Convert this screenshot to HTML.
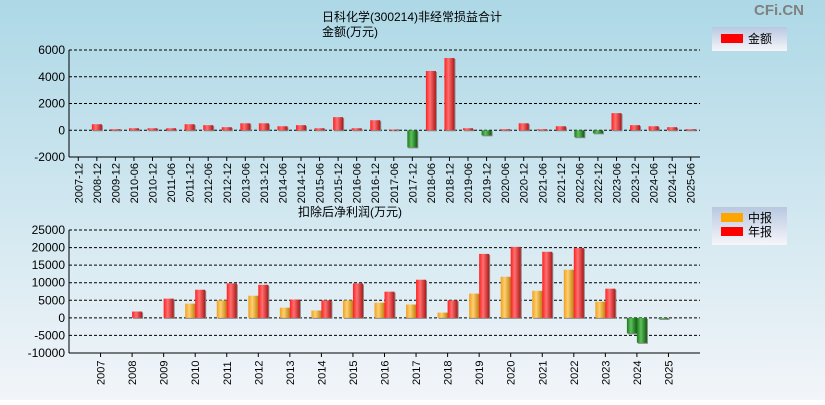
<!DOCTYPE html>
<html><head><meta charset="utf-8"><style>
body{margin:0;width:825px;height:400px;overflow:hidden;font-family:"Liberation Sans","Noto Sans CJK SC",sans-serif}
svg text{font-family:"Liberation Sans","Noto Sans CJK SC",sans-serif}
</style></head><body>
<svg id="c" width="825" height="400" xmlns="http://www.w3.org/2000/svg">
<defs>
<linearGradient id="bg" x1="0" y1="0" x2="0" y2="1"><stop offset="0" stop-color="#add8e6"/><stop offset="1" stop-color="#f2f5f9"/></linearGradient>
<linearGradient id="lg" x1="0" y1="0" x2="0" y2="1"><stop offset="0" stop-color="#b8c8e0"/><stop offset="1" stop-color="#f6f6fa"/></linearGradient>
<linearGradient id="gr" x1="0" x2="1"><stop offset="0" stop-color="#ff2020"/><stop offset="0.4" stop-color="#ff7070"/><stop offset="1" stop-color="#b01818"/></linearGradient>
<linearGradient id="go" x1="0" x2="1"><stop offset="0" stop-color="#f0a020"/><stop offset="0.4" stop-color="#ffd070"/><stop offset="1" stop-color="#c08010"/></linearGradient>
<linearGradient id="gg" x1="0" x2="1"><stop offset="0" stop-color="#1c7a1c"/><stop offset="0.4" stop-color="#5cc05c"/><stop offset="1" stop-color="#0f5a0f"/></linearGradient>
</defs>
<rect width="825" height="400" fill="url(#bg)"/>
<text x="779" y="15" font-size="15" font-weight="bold" fill="#808080" text-anchor="middle">CFi.CN</text>
<text x="412" y="21" font-size="12" text-anchor="middle">日科化学(300214)非经常损益合计</text>
<text x="350" y="36" font-size="12" text-anchor="middle">金额(万元)</text>
<text x="350" y="216" font-size="12" text-anchor="middle">扣除后净利润(万元)</text>
<g><rect x="712" y="27" width="75" height="24" fill="url(#lg)"/><rect x="721" y="34" width="22" height="9" fill="#f00"/><text x="748" y="43" font-size="12">金额</text></g>
<g><rect x="712" y="207" width="75" height="38" fill="url(#lg)"/><rect x="721" y="213" width="22" height="9" fill="#ffa500"/><text x="748" y="222" font-size="12">中报</text><rect x="721" y="227" width="22" height="9" fill="#f00"/><text x="748" y="236" font-size="12">年报</text></g>
<g id="top"></g><g id="bot"></g>
</svg>
<script>
const topCats=["2007-12","2008-12","2009-12","2010-06","2010-12","2011-06","2011-12","2012-06","2012-12","2013-06","2013-12","2014-06","2014-12","2015-06","2015-12","2016-06","2016-12","2017-06","2017-12","2018-06","2018-12","2019-06","2019-12","2020-06","2020-12","2021-06","2021-12","2022-06","2022-12","2023-06","2023-12","2024-06","2024-12","2025-06"];
const topVals=[0,450,80,150,150,150,450,380,230,520,520,300,380,150,980,150,750,60,-1280,4430,5400,150,-380,80,520,80,300,-520,-230,1280,380,300,230,80];
const topTicks=[6000,4000,2000,0,-2000];
const botCats=["2007","2008","2009","2010","2011","2012","2013","2014","2015","2016","2017","2018","2019","2020","2021","2022","2023","2024","2025"];
const botHalf=[null,null,null,4050,5000,6300,2900,2100,5000,4300,3800,1500,6900,11700,7700,13700,4600,-4400,-300];
const botYear=[null,1800,5470,8000,9800,9400,5200,5000,9800,7450,10850,5000,18200,20200,18800,19900,8300,-7100,null];
const botTicks=[25000,20000,15000,10000,5000,0,-5000,-10000];
const NS="http://www.w3.org/2000/svg";
function mk(p,t,a){const e=document.createElementNS(NS,t);for(const k in a)e.setAttribute(k,a[k]);p.appendChild(e);return e;}
function axis(g,x0,x1,y,vmax,vmin,ticks,n,cats,lblY,rotStep){
  const yTop=y[0],yBot=y[1];
  const Y=v=>yTop+(vmax-v)/(vmax-vmin)*(yBot-yTop);
  ticks.forEach(t=>{
    if(t!==vmin){const l=mk(g,'line',{x1:x0,x2:x1,y1:Y(t),y2:Y(t),stroke:'#000','stroke-dasharray':'3,2'});
    
    }
    const tx=mk(g,'text',{x:x0-4,y:Y(t)+4,'font-size':12,'text-anchor':'end'});tx.textContent=t;
    
    
  });
  mk(g,'line',{x1:x0,x2:x0,y1:yTop,y2:yBot,stroke:'#000'});
  mk(g,'line',{x1:x0,x2:x1,y1:yBot,y2:yBot,stroke:'#000'});
  return Y;
}
// top chart
(function(){
  const g=document.getElementById('top');const x0=69,x1=700;
  const Y=axis(g,x0,x1,[50,157],6000,-2000,topTicks);
  const step=(x1-x0)/topCats.length;
  const X=i=>x0+step*(i+0.5);
  topCats.forEach((c,i)=>{
    const x=X(i);mk(g,'line',{x1:x,x2:x,y1:157,y2:161,stroke:'#000'});
    const t=mk(g,'text',{x:x+4,y:163,'font-size':11,'text-anchor':'end',transform:`rotate(-90 ${x+4} 163)`});t.textContent=c;
    
    
    const v=topVals[i];if(!v)return;
    const y0=Y(0),y=Y(v);
    mk(g,'rect',{x:x-4,y:Math.min(y0,y)+1,width:10,height:Math.abs(y-y0),fill:'#888'});
    const r=mk(g,'rect',{x:x-5,y:Math.min(y0,y),width:10,height:Math.abs(y-y0),fill:v>0?'url(#gr)':'url(#gg)'});
    
    
  });
})();
// bottom chart
(function(){
  const g=document.getElementById('bot');const x0=69,x1=700;
  const Y=axis(g,x0,x1,[230,353],25000,-10000,botTicks);
  const step=(x1-x0)/(botCats.length+1);
  const X=i=>x0+step*(i+1);
  botCats.forEach((c,i)=>{
    const x=X(i);mk(g,'line',{x1:x,x2:x,y1:353,y2:357,stroke:'#000'});
    const t=mk(g,'text',{x:x+4,y:385,'font-size':11,transform:`rotate(-90 ${x+4} 385)`});t.textContent=c;
    
    
    [[botHalf[i],-10,'url(#go)','half'],[botYear[i],0,'url(#gr)','year']].forEach(([v,dx,f,k])=>{
      if(v===null||v===undefined)return;
      const y0=Y(0),y=Y(v);
      mk(g,'rect',{x:x+dx+1,y:Math.min(y0,y)+1,width:10,height:Math.abs(y-y0),fill:'#888'});
      const r=mk(g,'rect',{x:x+dx,y:Math.min(y0,y),width:10,height:Math.abs(y-y0),fill:v>0?f:'url(#gg)'});
      
      
    });
  });
})();
</script>
</body></html>
